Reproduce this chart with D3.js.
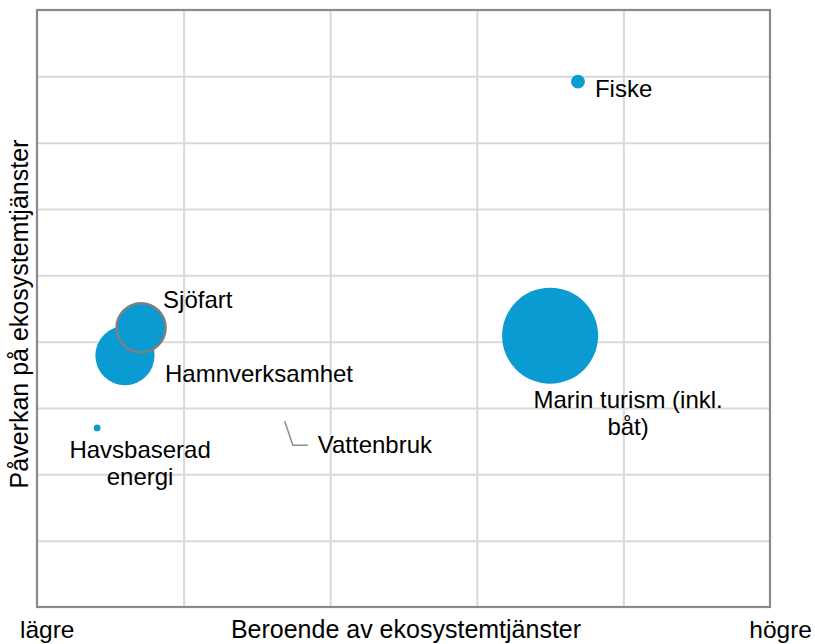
<!DOCTYPE html>
<html>
<head>
<meta charset="utf-8">
<script src="https://cdn.jsdelivr.net/npm/d3@7"></script>
<style>
  body { margin: 0; background: #fff; }
  text { font-family: "Liberation Sans", Arial, sans-serif; fill: #000; }
</style>
</head>
<body>
<script>
// data
var sektorer = ["Fiske", "Marin turism (inkl. båt)", "Hamnverksamhet", "Sjöfart", "Havsbaserad energi", "Vattenbruk"]
var beroende = [3.69, 3.50, 0.60, 0.71, 0.41, 1.69]   // x: beroende av ekosystemtjänster
var paverkan = [7.92, 4.09, 3.79, 4.21, 2.70, 2.80]   // y: påverkan på ekosystemtjänster
var storlek  = [2.1, 100, 38, 26, 0.5, 0]              // bubble size (area)
var etiketter = [["Fiske"], ["Marin turism (inkl.", "båt)"], ["Hamnverksamhet"], ["Sjöfart"], ["Havsbaserad", "energi"], ["Vattenbruk"]]

// label placement, px offsets from the bubble centre
var labelPos = [
  {dx: 17, dy: 15, anchor: "start"},
  {dx: 78, dy: 72, anchor: "middle"},
  {dx: 40, dy: 26, anchor: "start"},
  {dx: 22, dy: -20, anchor: "start"},
  {dx: 43, dy: 30, anchor: "middle"},
  {dx: 33, dy: 32, anchor: "start"}
]

var W = 815, H = 644
var margin = {left: 37, right: 45, top: 10, bottom: 37}
var width = W - margin.left - margin.right,
    height = H - margin.top - margin.bottom

var svg = d3.select("body").append("svg")
    .attr("width", W)
    .attr("height", H)

var g = svg.append("g")
    .attr("transform", "translate(" + margin.left + "," + margin.top + ")")

var x = d3.scaleLinear().domain([0, 5]).range([0, width])
var y = d3.scaleLinear().domain([0, 9]).range([height, 0])
var r = d3.scaleSqrt().domain([0, 100]).range([0, 48])

// gridlines
g.append("g")
    .attr("class", "grid")
    .attr("transform", "translate(0," + height + ")")
    .call(d3.axisBottom(x).tickValues([1, 2, 3, 4]).tickSize(-height).tickFormat(""))
g.append("g")
    .attr("class", "grid")
    .call(d3.axisLeft(y).tickValues([1, 2, 3, 4, 5, 6, 7, 8]).tickSize(-width).tickFormat(""))
g.selectAll(".grid .domain").remove()
g.selectAll(".grid line").attr("stroke", "#d9d9d9").attr("stroke-width", 2)

// plot border
g.append("rect")
    .attr("width", width)
    .attr("height", height)
    .attr("fill", "none")
    .attr("stroke", "#8a8a8a")
    .attr("stroke-width", 2.2)

var rows = sektorer.map(function (s, i) {
  return {name: s, x: beroende[i], y: paverkan[i], size: storlek[i], lines: etiketter[i], pos: labelPos[i]}
})

// bubbles
g.selectAll("circle.bubble")
    .data(rows.filter(function (d) { return d.size > 0 }))
    .enter()
    .append("circle")
    .attr("class", "bubble")
    .attr("cx", function (d) { return x(d.x) })
    .attr("cy", function (d) { return y(d.y) })
    .attr("r", function (d) { return r(d.size) })
    .attr("fill", "#0a9bd3")
    .attr("stroke", function (d) { return d.name == "Sjöfart" ? "#7f7f7f" : "none" })
    .attr("stroke-width", 2.5)

// leader line for Vattenbruk (zero size)
var vb = rows[5]
g.append("path")
    .attr("d", "M" + x(vb.x) + "," + y(vb.y) + "l8,24l15,0")
    .attr("fill", "none")
    .attr("stroke", "#8c8c8c")
    .attr("stroke-width", 1.5)

// labels
var lab = g.selectAll("text.lab")
    .data(rows)
    .enter()
    .append("text")
    .attr("class", "lab")
    .attr("font-size", "24px")
    .attr("text-anchor", function (d) { return d.pos.anchor })
    .attr("x", function (d) { return x(d.x) + d.pos.dx })
    .attr("y", function (d) { return y(d.y) + d.pos.dy })

lab.selectAll("tspan")
    .data(function (d) { return d.lines.map(function (l) { return {t: l, p: d} }) })
    .enter()
    .append("tspan")
    .attr("x", function (d) { return x(d.p.x) + d.p.pos.dx })
    .attr("dy", function (d, i) { return i == 0 ? 0 : 27 })
    .text(function (d) { return d.t })

// axis titles
svg.append("text")
    .attr("x", 406)
    .attr("y", 638)
    .attr("text-anchor", "middle")
    .attr("font-size", "25px")
    .text("Beroende av ekosystemtjänster")
svg.append("text")
    .attr("x", 20)
    .attr("y", 638)
    .attr("font-size", "24.5px")
    .text("lägre")
svg.append("text")
    .attr("x", 812)
    .attr("y", 638)
    .attr("text-anchor", "end")
    .attr("font-size", "24.5px")
    .text("högre")
svg.append("text")
    .attr("transform", "translate(28,314) rotate(-90)")
    .attr("text-anchor", "middle")
    .attr("font-size", "25px")
    .text("Påverkan på ekosystemtjänster")
</script>
</body>
</html>
